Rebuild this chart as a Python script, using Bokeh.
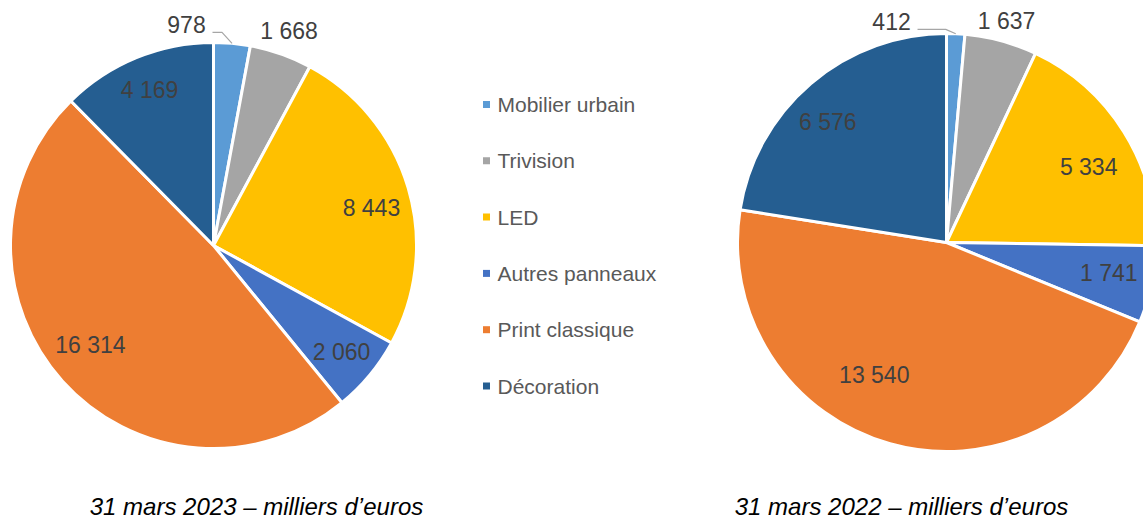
import math
from bokeh.plotting import figure
from bokeh.models import Range1d, ColumnDataSource
from bokeh.embed import file_html
from bokeh.resources import INLINE
from bokeh.core.properties import value

# ---------------- data ----------------
categories = ["Mobilier urbain", "Trivision", "LED", "Autres panneaux",
              "Print classique", "Décoration"]
values_2023 = [978, 1668, 8443, 2060, 16314, 4169]
values_2022 = [412, 1637, 5334, 1741, 13540, 6576]
titles = ["31 mars 2023 \u2013 milliers d\u2019euros",
          "31 mars 2022 \u2013 milliers d\u2019euros"]
colors = ["#5B9BD5", "#A5A5A5", "#FFC000", "#4472C4", "#ED7D31", "#255E91"]

# ---------------- layout (screen pixels) ----------------
W, H = 1143, 518
OFF = 0
PAGE_H = 518


def sy(y):
    """screen y -> data y (data y goes up)"""
    return PAGE_H - y


pies = [
    dict(vals=values_2023, cx=213, cy=245, r=203, title=titles[0], tx=256,
         dist=[1.097, 1.12, 0.80, 0.82, 0.78, 0.83],
         nudge=[-12.2, 0, 3, 0, 3, 0], leader=[True, False, False, False, False, False]),
    dict(vals=values_2022, cx=946, cy=242, r=209, title=titles[1], tx=901,
         dist=[1.09, 1.10, 0.77, 0.79, 0.72, 0.81],
         nudge=[-16.5, 0, 4, -1, 13, -4], leader=[True, False, False, False, False, False]),
]

p = figure(width=W, height=H, output_backend="svg", toolbar_location=None,
           x_range=Range1d(OFF, OFF + W), y_range=Range1d(PAGE_H - OFF - H, PAGE_H - OFF),
           min_border=0, x_axis_location=None, y_axis_location=None)
p.grid.visible = False
p.outline_line_color = None
p.background_fill_color = "white"

FONT = value("Liberation Sans")

for pie in pies:
    vals = pie["vals"]
    total = float(sum(vals))
    cum = 0.0
    starts, ends, mids = [], [], []
    for v in vals:
        f0 = cum / total
        cum += v
        f1 = cum / total
        starts.append(math.pi / 2 - 2 * math.pi * f0)
        ends.append(math.pi / 2 - 2 * math.pi * f1)
        mids.append((f0 + f1) / 2 * 360.0)
    src = ColumnDataSource(dict(
        x=[pie["cx"]] * len(vals), y=[sy(pie["cy"])] * len(vals),
        start=starts, end=ends, color=colors))
    p.wedge(x="x", y="y", radius=pie["r"], start_angle="start", end_angle="end",
            direction="clock", fill_color="color", line_color="white",
            line_width=3, source=src)

    lx, ly, lt = [], [], []
    for i, v in enumerate(vals):
        th = math.radians(mids[i] + pie["nudge"][i])
        d = pie["dist"][i] * pie["r"]
        x = pie["cx"] + d * math.sin(th)
        y = pie["cy"] - d * math.cos(th)
        lx.append(x)
        ly.append(sy(y))
        lt.append(f"{v:,}".replace(",", " "))
        if pie["leader"][i]:
            thm = math.radians(mids[i])
            ex = pie["cx"] + pie["r"] * math.sin(thm)
            ey = pie["cy"] - pie["r"] * math.cos(thm)
            x0 = x + 26
            yl = y + 8
            xk = ex - 10
            p.line([x0, xk, ex], [sy(yl), sy(yl), sy(ey)], line_color="#A6A6A6",
                   line_width=1.2)
    p.text(x=lx, y=ly, text=lt, text_font=FONT, text_font_size="23px",
           text_color="#404040", text_align="center", text_baseline="middle")

    p.text(x=[pie["tx"]], y=[sy(505.5)], text=[pie["title"]], text_font=FONT,
           text_font_size="24px", text_font_style="italic", text_color="#000000",
           text_align="center", text_baseline="middle")

# legend
leg_x = 486
leg_y = [104 + i * 56.3 for i in range(len(categories))]
p.rect(x=[leg_x] * len(categories), y=[sy(v) for v in leg_y], width=7, height=7,
       fill_color=colors, line_color=None)
p.text(x=[leg_x + 11] * len(categories), y=[sy(v) for v in leg_y], text=categories,
       text_font=FONT, text_font_size="21px", text_color="#595959",
       text_align="left", text_baseline="middle")

open("out.html", "w").write(file_html(p, INLINE))
